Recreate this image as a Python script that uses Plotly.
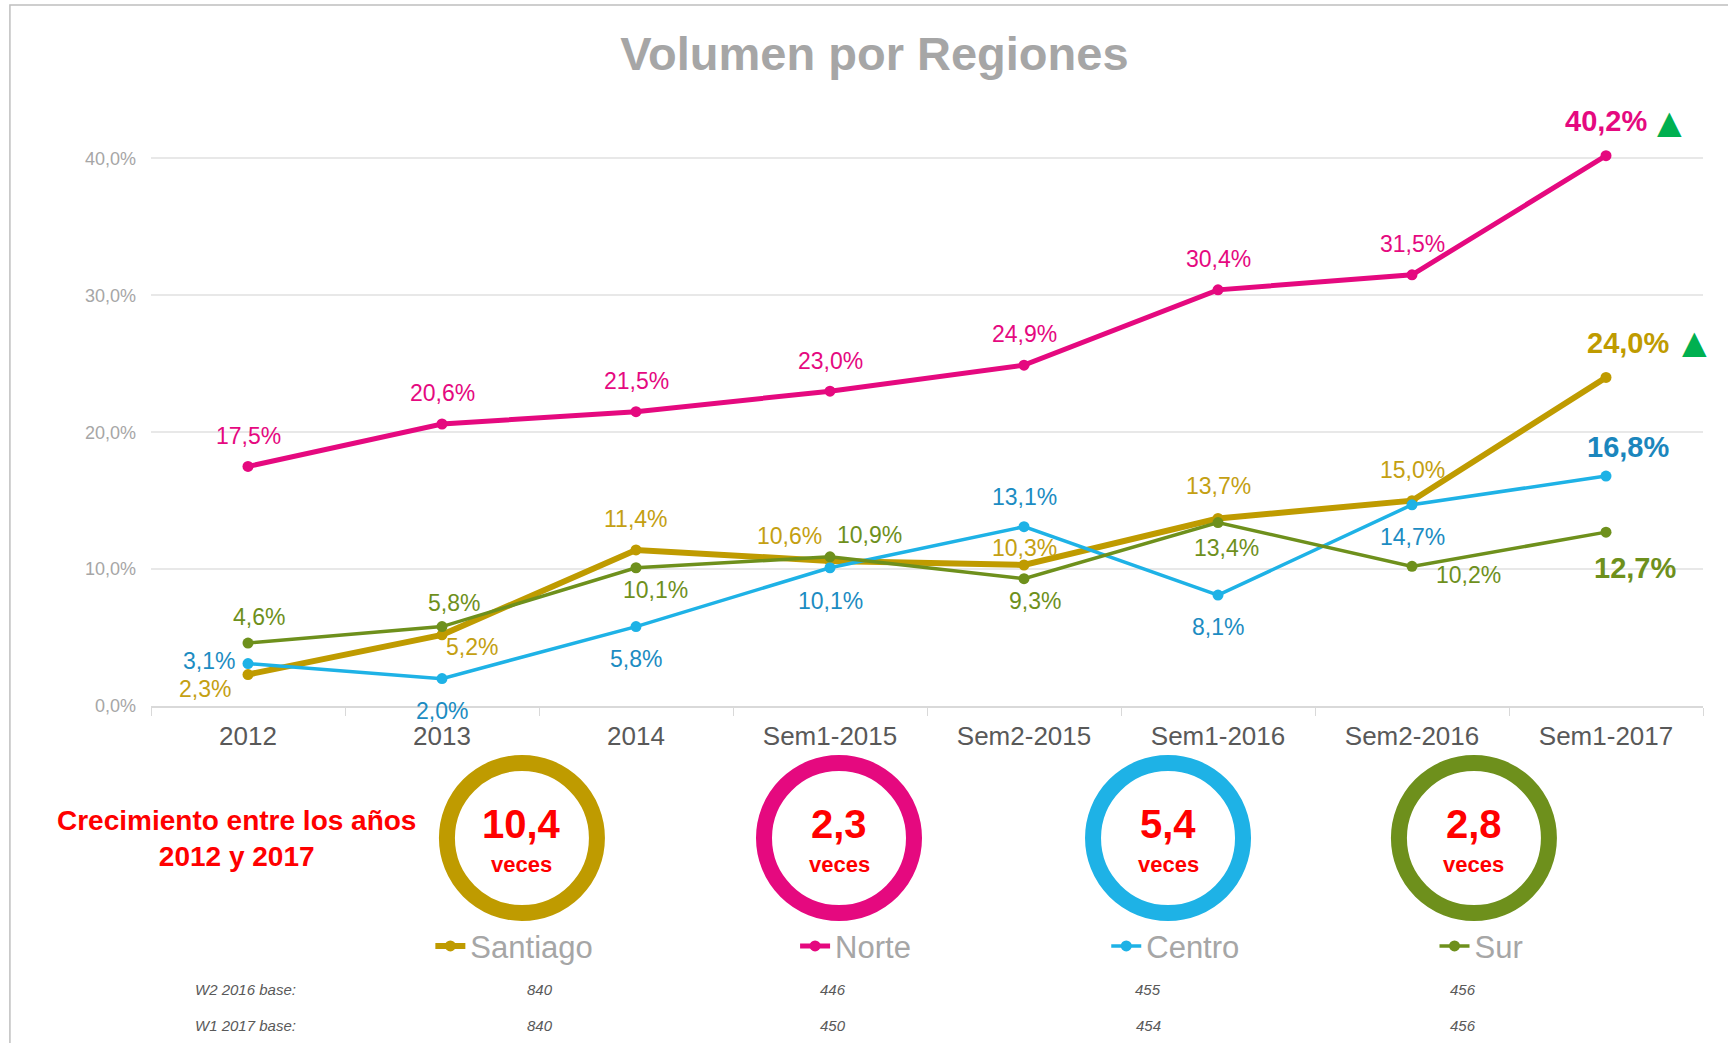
import plotly.graph_objects as go

periodos = ["2012", "2013", "2014", "Sem1-2015", "Sem2-2015", "Sem1-2016", "Sem2-2016", "Sem1-2017"]

santiago = [2.3, 5.2, 11.4, 10.6, 10.3, 13.7, 15.0, 24.0]
norte = [17.5, 20.6, 21.5, 23.0, 24.9, 30.4, 31.5, 40.2]
centro = [3.1, 2.0, 5.8, 10.1, 13.1, 8.1, 14.7, 16.8]
sur = [4.6, 5.8, 10.1, 10.9, 9.3, 13.4, 10.2, 12.7]

regiones = ["Santiago", "Norte", "Centro", "Sur"]
crecimiento = [10.4, 2.3, 5.4, 2.8]
base_w2_2016 = [840, 446, 455, 456]
base_w1_2017 = [840, 450, 454, 456]

# estilos por region
colores = {"Santiago": "#BF9B00", "Norte": "#E5097F", "Centro": "#1EB2E6", "Sur": "#6E901C"}
col_etiq = {"Santiago": "#C4A012", "Norte": "#E5097F", "Centro": "#1C8CC2", "Sur": "#6E901C"}
col_final = {"Santiago": "#BF9B00", "Norte": "#E5097F", "Centro": "#1B86BD", "Sur": "#6E901C"}
anchos = {"Santiago": 6, "Norte": 5, "Centro": 3.5, "Sur": 3.5}

# desplazamiento (px) de cada etiqueta respecto de su punto
offs = {
    "Santiago": [(-43, -14), (30, -12), (0, 31), (-41, 25), (0, 17), (0, 32), (0, 31), (22, 34)],
    "Norte": [(0, 30), (0, 31), (0, 31), (0, 30), (0, 31), (0, 31), (0, 31), (0, 35)],
    "Centro": [(-39, 3), (0, -32), (0, -32), (0, -33), (0, 30), (0, -32), (0, -32), (22, 29)],
    "Sur": [(11, 26), (12, 24), (19, -22), (39, 22), (11, -22), (8, -25), (56, -9), (29, -36)],
}

series = {"Santiago": santiago, "Norte": norte, "Centro": centro, "Sur": sur}
FONT = "Liberation Sans, Arial"


def pct(v):
    return f"{v:.1f}".replace(".", ",") + "%"


fig = go.Figure()
leyendas = ["legend", "legend2", "legend3", "legend4"]
for i, r in enumerate(regiones):
    fig.add_trace(go.Scatter(
        x=periodos, y=[v / 100 for v in series[r]], name=r, mode="lines+markers",
        line=dict(color=colores[r], width=anchos[r]),
        marker=dict(size=11, color=colores[r]),
        legend=leyendas[i], showlegend=True, hoverinfo="skip",
    ))

anots = []
for r in regiones:
    vals = series[r]
    for j, v in enumerate(vals):
        ultimo = j == len(vals) - 1
        dx, dy = offs[r][j]
        # x como indice de categoria ("2012" se leeria como numero)
        anots.append(dict(
            x=j, y=v / 100, xref="x", yref="y", text=pct(v), showarrow=False,
            xanchor="center", yanchor="middle", xshift=dx, yshift=dy,
            font=dict(family=FONT, size=29 if ultimo else 23,
                      color=col_final[r] if ultimo else col_etiq[r],
                      weight="bold" if ultimo else "normal"),
        ))

# flechas verdes de subida
for r, dx, dy in [("Norte", 63, 34), ("Santiago", 88, 35)]:
    anots.append(dict(x=len(periodos) - 1, y=series[r][-1] / 100, xref="x", yref="y", text="▲",
                      showarrow=False, xanchor="center", yanchor="middle", xshift=dx, yshift=dy,
                      font=dict(family="DejaVu Sans", size=32, color="#00B050")))

# anillos de crecimiento
centros_x = [0.239, 0.4433, 0.6553, 0.8524]
cy = -0.2143
shapes = []
for i, r in enumerate(regiones):
    shapes.append(dict(type="circle", xref="paper", yref="paper", xsizemode="pixel", ysizemode="pixel",
                       xanchor=centros_x[i], yanchor=cy, x0=-75, x1=75, y0=-75, y1=75,
                       line=dict(color=colores[r], width=16), fillcolor="rgba(0,0,0,0)"))
    anots.append(dict(x=centros_x[i], y=cy, xref="paper", yref="paper", showarrow=False,
                      xanchor="center", yanchor="middle", yshift=14,
                      text=f"{crecimiento[i]:.1f}".replace(".", ","),
                      font=dict(family=FONT, size=40, color="#FF0000", weight="bold")))
    anots.append(dict(x=centros_x[i], y=cy, xref="paper", yref="paper", showarrow=False,
                      xanchor="center", yanchor="middle", yshift=-26, text="veces",
                      font=dict(family=FONT, size=22, color="#FF0000", weight="bold")))

anots.append(dict(x=0.0548, y=cy, xref="paper", yref="paper", showarrow=False,
                  xanchor="center", yanchor="middle", yshift=0,
                  text="Crecimiento entre los años<br>2012 y 2017", align="center",
                  font=dict(family=FONT, size=28, color="#FF0000", weight="bold")))

# tabla de bases
base_x = [0.2507, 0.4394, 0.6424, 0.8454]
for fila, vals, yy in [("W2 2016 base:", base_w2_2016, -0.461), ("W1 2017 base:", base_w1_2017, -0.518)]:
    anots.append(dict(x=0.027, y=yy, xref="paper", yref="paper", showarrow=False,
                      xanchor="left", yanchor="middle", text=fila,
                      font=dict(family=FONT, size=15, color="#595959", style="italic")))
    for bx, v in zip(base_x, vals):
        anots.append(dict(x=bx, y=yy, xref="paper", yref="paper", showarrow=False,
                          xanchor="center", yanchor="middle", text=str(v),
                          font=dict(family=FONT, size=15, color="#595959", style="italic")))

# marco
shapes.append(dict(type="rect", xref="paper", yref="paper", x0=-0.0909, x1=1.05, y0=-0.6, y1=1.138,
                   line=dict(color="#BFBFBF", width=1.5), layer="below"))

leg_x = [0.180, 0.4150, 0.6155, 0.8270]
leg_common = dict(orientation="h", yanchor="middle", y=-0.39, xanchor="left",
                  bgcolor="rgba(0,0,0,0)", font=dict(family=FONT, size=31, color="#A6A6A6"))

fig.update_layout(
    width=1728, height=1043, autosize=False, showlegend=True,
    margin=dict(l=151, r=25, t=90, b=337),
    paper_bgcolor="white", plot_bgcolor="white",
    separators=",.",
    title=dict(text="Volumen por Regiones", x=0.506, xanchor="center", y=0.949, yanchor="middle",
               font=dict(family=FONT, size=47, color="#A6A6A6", weight="bold")),
    xaxis=dict(type="category", range=[-0.5, 7.5], tickson="boundaries", ticks="outside", ticklen=8,
               tickcolor="#D9D9D9", showline=True, linecolor="#D9D9D9", linewidth=1.5, showgrid=False,
               tickfont=dict(family=FONT, size=26, color="#595959"),
               ticklabelstandoff=6),
    yaxis=dict(range=[0, 0.45], dtick=0.1, tickformat=".1%", gridcolor="#E8E8E8", gridwidth=1.5,
               zeroline=False, showline=False, ticklabelstandoff=14,
               tickfont=dict(family=FONT, size=18, color="#A6A6A6")),
    legend=dict(x=leg_x[0], **leg_common),
    legend2=dict(x=leg_x[1], **leg_common),
    legend3=dict(x=leg_x[2], **leg_common),
    legend4=dict(x=leg_x[3], **leg_common),
    annotations=anots,
    shapes=shapes,
    hovermode=False,
)

fig.write_html("out.html", config={"displayModeBar": False},
               post_script="document.body.style.margin='0px';")
